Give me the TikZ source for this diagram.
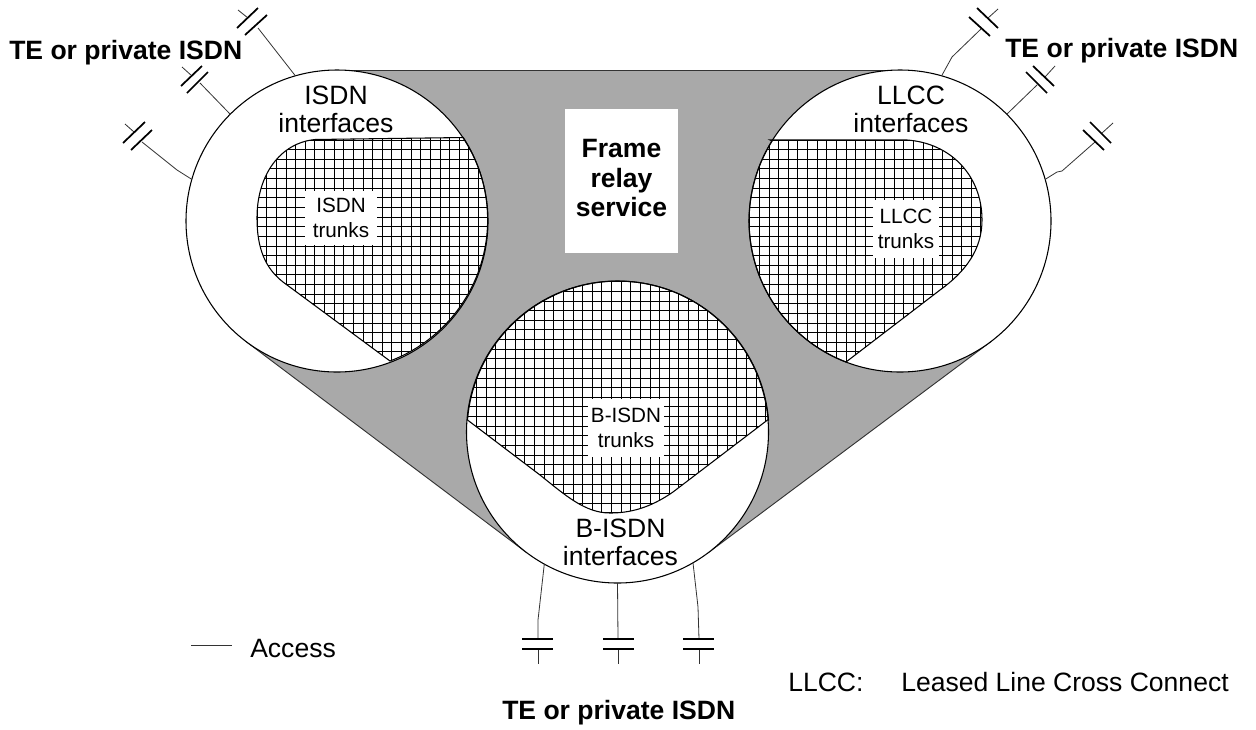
\documentclass[tikz,border=0pt]{standalone}
\usepackage{xcolor}
\usepackage{fontspec}
\setmainfont{Liberation Sans}
\usetikzlibrary{backgrounds}
\definecolor{relaygrey}{HTML}{A9A9A9}
\definecolor{stemgrey}{HTML}{333333}
\newcommand{\hatchgrid}[2]{%
  \foreach \k in {0,...,32} {
    \draw[gridline] ({#1+\k*9.63},60) -- ({#1+\k*9.63},600);
    \draw[gridline] (150,{#2+\k*9.63}) -- (1100,{#2+\k*9.63});
  }}
\def\isdnblob{(390,361) arc[start angle=69.3,end angle=-33,radius=151] -- (315,139.5) .. controls (280,143) and (257,175) .. (257,218) .. controls (257,248) and (265,268) .. (283,282) -- cycle}
\def\llccblob{(770,140) -- (907,140) .. controls (950,143) and (982,175) .. (982,220) .. controls (982,250) and (965,272) .. (940,290) -- (846,362) arc[start angle=111,end angle=212,radius=151]}
\def\bisdnblob{(767.5,420) -- (673,492) .. controls (650,508) and (630,513) .. (610,513) .. controls (585,513) and (565,495) .. (540,475) -- (467.5,420) arc[start angle=184.6,end angle=355.4,radius=151]}

\begin{document}
\begin{tikzpicture}[
  x=0.75pt, y=-0.75pt,
  office/.style={circle, draw=black, fill=white, line width=0.8pt, minimum size=226.5pt, inner sep=0pt, outer sep=0pt},
  biglabel/.style={font=\fontsize{19.9}{21}\selectfont, align=center, inner sep=0pt},
  trunklabel/.style={font=\fontsize{15.5}{18.8}\selectfont, align=center, fill=white, inner sep=0pt, minimum width=54pt, minimum height=41pt},
  boldlabel/.style={font=\fontsize{19.9}{21}\selectfont\bfseries, anchor=base west, inner sep=0pt},
  plainlabel/.style={font=\fontsize{19.9}{21}\selectfont, anchor=base west, inner sep=0pt},
  gridline/.style={draw=black, line width=0.6pt},
  blobline/.style={draw=black, line width=0.8pt},
  stem/.style={draw=stemgrey, line width=0.6pt},
  plate/.style={draw=black, line width=1.3pt}
]
  \useasboundingbox (0,0) rectangle (1256,729);

  % the three circles
  \node[office] (isdn) at (337,221) {};
  \node[office] (llcc) at (900,221) {};
  \node[office] (bisdn) at (617.5,432) {};
  \coordinate (topa) at (325,70.5);
  \coordinate (topb) at (913,70.5);

  \begin{scope}[on background layer]
    \fill[white] (0,0) rectangle (1256,729);
    \draw[fill=relaygrey, draw=stemgrey, line width=0.7pt] (topa) -- (topb) -- (llcc.307) -- (bisdn.307) -- (bisdn.233) -- (isdn.233) -- cycle;
  \end{scope}

  % hatched trunk areas
  \begin{scope}
    \clip \isdnblob;
    \hatchgrid{247.4}{140}
  \end{scope}
  \draw[blobline] \isdnblob;
  \begin{scope}
    \clip \llccblob -- cycle;
    \hatchgrid{749.7}{140}
  \end{scope}
  \draw[blobline] \llccblob -- cycle;
  \begin{scope}
    \clip \bisdnblob -- cycle;
    \hatchgrid{467}{281.7}
  \end{scope}
  \draw[blobline] \bisdnblob -- cycle;

  % labels
  \node[fill=white, minimum width=84.75pt, minimum height=108pt, inner sep=0pt, font=\fontsize{19.9}{22.1}\selectfont\bfseries, align=center] (relay) at (621.5,181) {Frame\\relay\\service\rule[-4.5pt]{0pt}{0pt}};
  \node[biglabel] (isdnif) at (336,109.5) {ISDN\\interfaces};
  \node[biglabel] (llccif) at (911,109.5) {LLCC\\interfaces};
  \node[biglabel] (bisdnif) at (620.5,542.5) {B-ISDN\\interfaces};
  \node[trunklabel] (isdntr) at (341,218) {ISDN\\trunks};
  \node[trunklabel, minimum width=50pt, minimum height=44pt] (llcctr) at (906,229) {LLCC\\trunks};
  \node[trunklabel, minimum width=57pt, minimum height=43pt] (bisdntr) at (626,428) {B-ISDN\\trunks};

  \node[boldlabel] (teleft) at (9,59) {TE or private ISDN};
  \node[boldlabel] (teright) at (1005,57) {TE or private ISDN};
  \node[boldlabel] (tebottom) at (502,719) {TE or private ISDN};
  \node[plainlabel] (accesslabel) at (250,657) {Access};
  \node[plainlabel] (llccabbr) at (788,691) {LLCC:};
  \node[plainlabel] (llccname) at (901,691) {Leased Line Cross Connect};

  % legend line
  \coordinate (legenda) at (191,645);
  \coordinate (legendb) at (232,645);
  \draw[stem] (legenda) -- (legendb);

  % access stems
  \coordinate (la) at (258,28);
  \coordinate (lb) at (200,83);
  \coordinate (lc) at (142,142);
  \coordinate (ra) at (982,28);
  \coordinate (rb) at (1037,85);
  \coordinate (rc) at (1095,142);
  \coordinate (ba) at (538,639);
  \coordinate (bb) at (618,639);
  \coordinate (bc) at (699,639);
  \draw[stem] (isdn.106) -- (la);
  \draw[stem] (isdn.135) -- (lb);
  \draw[stem] (isdn.164) -- (177,170) -- (lc);
  \draw[stem] (llcc.74) -- (952,57) -- (ra);
  \draw[stem] (llcc.45) -- (rb);
  \draw[stem] (llcc.16) -- (1057,172) -- (1062,171) -- (rc);
  \draw[stem] (bisdn.241) -- (538,620) -- (ba);
  \draw[stem] (bisdn.270) -- (bb);
  \draw[stem] (bisdn.300) -- (698,607) -- (bc);

  % stubs behind the plates
  \foreach \ax/\ay/\bx/\by in {248/18/238/10, 192/76/182/67, 134/132/125/124, 988/18/998/9, 1045/77/1055/66, 1102/133/1113/123, 538/649/538/664, 618/649/618/664, 699/649/699/664}
    \draw[stem] (\ax,\ay) -- (\bx,\by);

  % plates
  \foreach \ax/\ay/\bx/\by in {245/35/267/15, 237/28/258/8, 187/93/208/72, 181/86/202/66, 131/150/152/130, 123/143/145/122, 969/17/990/36, 977/8/998/28, 1026/72/1047/93, 1033/66/1054/86, 1083/130/1104/150, 1090/122/1111/143, 522/639/553/639, 522/649/553/649, 603/639/634/639, 603/649/634/649, 683/639/714/639, 683/649/714/649}
    \draw[plate] (\ax,\ay) -- (\bx,\by);
\end{tikzpicture}
\end{document}
